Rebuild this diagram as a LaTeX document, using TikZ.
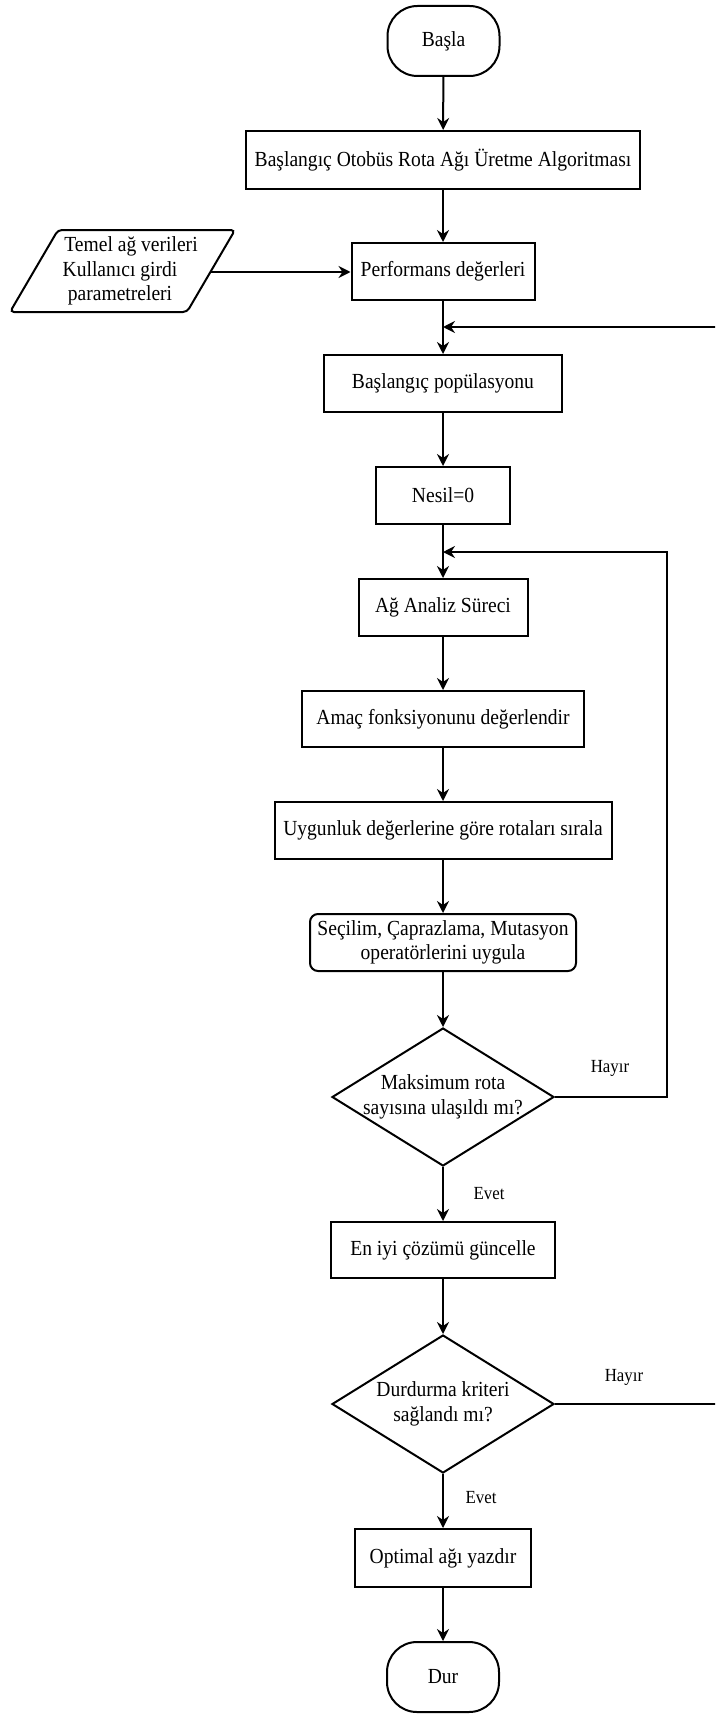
\documentclass[tikz,border=0pt]{standalone}
\usepackage{fontspec}
\setmainfont{Liberation Serif}[FakeStretch=0.91]
\usetikzlibrary{arrows.meta,shapes.geometric}
\tikzset{
  every node/.style={font=\fontsize{21.5}{24.5}\selectfont},
  line/.style={line width=2pt, draw=black},
  arr/.style={line, -{Stealth[length=12pt,width=12pt,inset=4pt]}},
  procbox/.style={draw, line width=2pt, rectangle, inner sep=0pt, align=center},
  roundbox/.style={procbox, rounded corners=8pt},
  termbox/.style={procbox, rounded corners=30pt, minimum width=112pt, minimum height=70pt},
  decision/.style={draw, line width=2pt, diamond, inner sep=0pt, minimum width=222pt, minimum height=138pt},
  txt/.style={align=center, inner sep=0pt},
  lbl/.style={inner sep=0pt, font=\fontsize{18.5}{21}\selectfont}
}
\begin{document}
\begin{tikzpicture}[x=1pt,y=-1pt]
\clip (0,0) rectangle (715,1715);
\fill[white] (0,0) rectangle (715,1715);

\node[termbox] (basla) at (443.5,41) {Başla};
\node[procbox, minimum width=394pt, minimum height=58pt] (alg) at (443,160) {Başlangıç Otobüs Rota Ağı Üretme Algoritması};
\node[procbox, minimum width=183pt, minimum height=57pt] (perf) at (443,271.5) {Performans değerleri};
\node[procbox, minimum width=238pt, minimum height=57pt] (pop) at (443,383.5) {Başlangıç popülasyonu};
\node[procbox, minimum width=134pt, minimum height=57pt] (nesil) at (443,495.5) {Nesil=0};
\node[procbox, minimum width=169pt, minimum height=57pt] (ag) at (443,607.5) {Ağ Analiz Süreci};
\node[procbox, minimum width=282pt, minimum height=56pt] (amac) at (443,719) {Amaç fonksiyonunu değerlendir};
\node[procbox, minimum width=337pt, minimum height=57pt] (uyg) at (443,830.5) {Uygunluk değerlerine göre rotaları sırala};
\node[roundbox, minimum width=266pt, minimum height=57pt] (sec) at (443,942.5) {Seçilim, Çaprazlama, Mutasyon\\operatörlerini uygula};
\node[decision] (d1) at (443,1097) {};
\node[txt] (d1t) at (443,1097) {Maksimum rota\\sayısına ulaşıldı mı?};
\node[procbox, minimum width=224pt, minimum height=56pt] (eniyi) at (443,1250) {En iyi çözümü güncelle};
\node[decision] (d2) at (443,1404) {};
\node[txt] (d2t) at (443,1404) {Durdurma kriteri\\sağlandı mı?};
\node[procbox, minimum width=176pt, minimum height=58pt] (opt) at (443,1558) {Optimal ağı yazdır};
\node[termbox] (dur) at (443,1677) {Dur};

% input parallelogram
\draw[line, rounded corners=4pt] (10,312) -- (58,230) -- (235,230) -- (187,312) -- cycle;
\node[txt] (inp) at (120,271) {\hspace*{22pt}Temel ağ verileri\\Kullanıcı girdi\\parametreleri};
\coordinate (inpE) at (211,272);

% merge points
\coordinate (m1) at (443,327);
\coordinate (m2) at (443,552);

\draw[arr] (basla) -- (alg);
\draw[arr] (alg) -- (perf);
\draw[arr] (inpE) -- (perf.west |- inpE);
\draw[arr] (perf) -- (pop);
\draw[arr] (pop) -- (nesil);
\draw[arr] (nesil) -- (ag);
\draw[arr] (ag) -- (amac);
\draw[arr] (amac) -- (uyg);
\draw[arr] (uyg) -- (sec);
\draw[arr] (sec) -- (d1);
\draw[arr] (d1) -- (eniyi);
\draw[arr] (eniyi) -- (d2);
\draw[arr] (d2) -- (opt);
\draw[arr] (opt) -- (dur);

\draw[arr] (d1.east) -- (667,1097) -- (667,552) -- (m2);
\draw[arr] (d2.east) -- (735,1404) -- (735,327) -- (m1);

\node[lbl] (h1) at (610,1068) {Hayır};
\node[lbl] (e1) at (489,1194) {Evet};
\node[lbl] (h2) at (624,1377) {Hayır};
\node[lbl] (e2) at (481,1498) {Evet};
\end{tikzpicture}
\end{document}
